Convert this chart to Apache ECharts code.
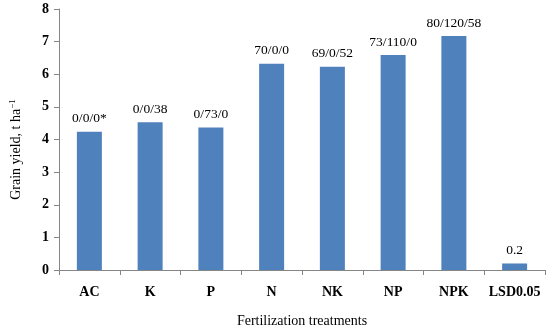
<!DOCTYPE html>
<html><head><meta charset="utf-8">
<script src="https://cdn.jsdelivr.net/npm/echarts@6/dist/echarts.min.js"></script>
<style>html,body{margin:0;padding:0;background:#fff}#c{width:550px;height:329px}</style>
</head><body><div id="c"></div>
<script>
var categories = ['AC','K','P','N','NK','NP','NPK','LSD0.05'];
var yieldValues = [4.24, 4.53, 4.37, 6.32, 6.23, 6.59, 7.17, 0.2];
var barLabels = ['0/0/0*','0/0/38','0/73/0','70/0/0','69/0/52','73/110/0','80/120/58','0.2'];
var yTicks = [0,1,2,3,4,5,6,7,8];

var FONT = '"Liberation Serif", "DejaVu Serif", serif';
var chart = echarts.init(document.getElementById('c'), null, {renderer:'canvas'});
chart.setOption({
  animation:false,
  backgroundColor:'#fff',
  grid:{left:59,right:5,top:9,bottom:59,containLabel:false,outerBoundsMode:'none'},
  xAxis:{
    type:'category', data:categories,
    axisLine:{lineStyle:{color:'#868686',width:1}},
    axisTick:{show:true,alignWithLabel:false,length:5,lineStyle:{color:'#868686'}},
    axisLabel:{interval:0,fontFamily:FONT,fontWeight:'bold',fontSize:14,color:'#000',margin:15},
    name:'Fertilization treatments', nameLocation:'middle', nameGap:44,
    nameTextStyle:{fontFamily:FONT,fontSize:14,color:'#000'}
  },
  yAxis:{
    type:'value', min:0, max:8, interval:1,
    axisLine:{show:true,lineStyle:{color:'#868686',width:1}},
    axisTick:{show:true,length:5,lineStyle:{color:'#868686'}},
    splitLine:{show:false},
    axisLabel:{fontFamily:FONT,fontWeight:'bold',fontSize:14,color:'#000',margin:10,
      formatter:function(v){return yTicks.indexOf(v)>=0?String(v):'';}},
    name:'{n|Grain yield, t ha}{s|−1}', nameLocation:'middle', nameGap:34,
    nameTextStyle:{padding:[0,20,0,0],rich:{n:{fontFamily:FONT,fontSize:14,color:'#000'},s:{fontFamily:FONT,fontSize:9,color:'#000',verticalAlign:'top',padding:[0,0,8,0]}}}
  },
  series:[{
    type:'bar', data:yieldValues, barWidth:25,
    itemStyle:{color:'#4F81BD'},
    label:{show:true,position:'top',distance:6,fontFamily:FONT,fontSize:13.5,color:'#000',
      formatter:function(p){return barLabels[p.dataIndex];}}
  }]
});
</script></body></html>
